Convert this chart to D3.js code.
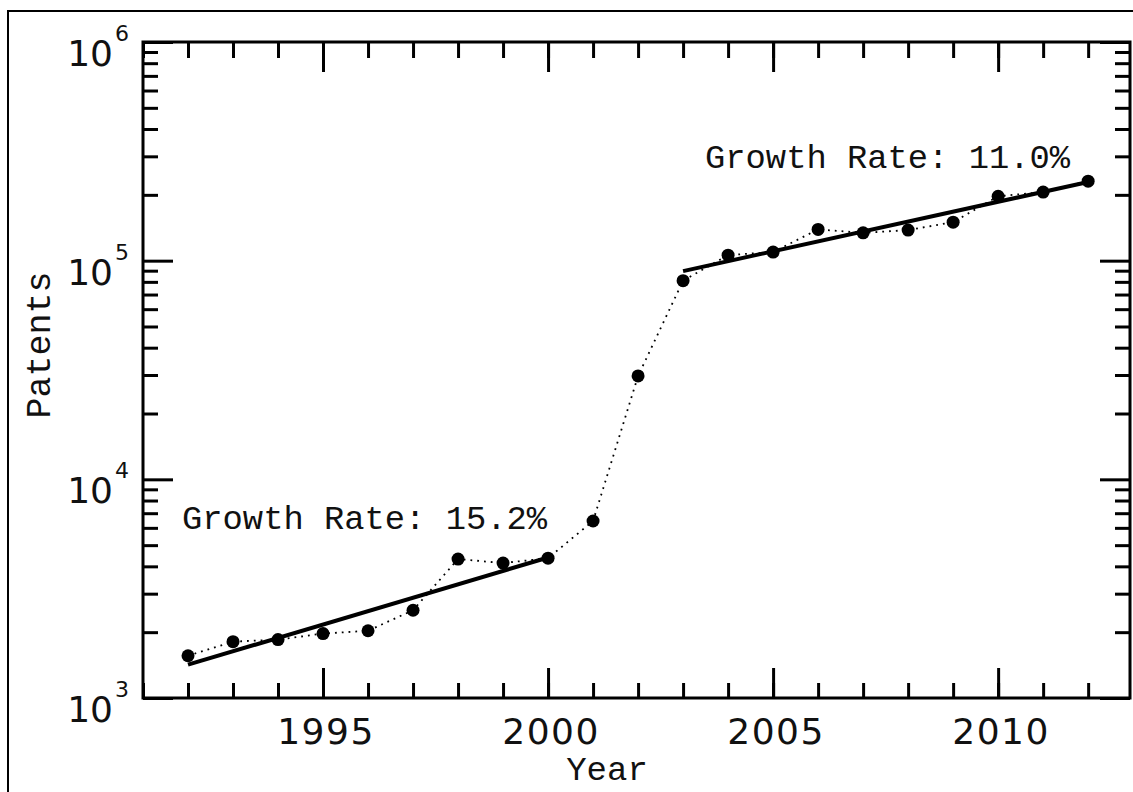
<!DOCTYPE html>
<html>
<head>
<meta charset="utf-8">
<script src="https://cdn.jsdelivr.net/npm/d3@7"></script>
<style>
  body { margin: 0; background: #fff; }
  svg { display: block; }
</style>
</head>
<body>
<script>
// patents per year
var years = [1992, 1993, 1994, 1995, 1996, 1997, 1998, 1999, 2000, 2001, 2002,
             2003, 2004, 2005, 2006, 2007, 2008, 2009, 2010, 2011, 2012];
var patents = [1560, 1810, 1850, 1970, 2030, 2520, 4320, 4140, 4360, 6450, 29700,
               81000, 106000, 109500, 139000, 134000, 138000, 150000, 197000, 206000, 231000];

// fitted trend segments
var fit1Years = [1992, 2000];
var fit1Values = [1420, 4390];
var fit2Years = [2003, 2012];
var fit2Values = [89600, 229000];

var growthLabels = ["Growth Rate: 15.2%", "Growth Rate: 11.0%"];

var majorYears = [1995, 2000, 2005, 2010];
var minorYears = d3.range(1991, 2013);
var decades = [3, 4, 5, 6];

var W = 1133, H = 792;
var plotL = 143, plotR = 1130, plotT = 42, plotB = 698;

var svg = d3.select("body").append("svg")
  .attr("width", W)
  .attr("height", H);

svg.append("rect")
  .attr("x", 8).attr("y", 11)
  .attr("width", 1150).attr("height", 820)
  .attr("fill", "none").attr("stroke", "#000").attr("stroke-width", 2);

var x = d3.scaleLinear().domain([1991, 2012.93]).range([plotL, plotR]);
var y = d3.scaleLog().domain([1e3, 1e6]).range([plotB, plotT]);

var minorY = [];
[1e3, 1e4, 1e5].forEach(function(d) {
  for (var k = 2; k <= 9; k++) minorY.push(d * k);
});
var majorY = decades.map(function(e) { return Math.pow(10, e); });

function tickAxis(axis, g) {
  g.call(axis);
  g.select(".domain").remove();
  g.selectAll(".tick line").attr("stroke", "#000").attr("stroke-width", 3);
}

// bottom / top ticks
tickAxis(d3.axisBottom(x).tickValues(minorYears).tickSize(-15).tickFormat(""),
  svg.append("g").attr("transform", "translate(0," + plotB + ")"));
tickAxis(d3.axisBottom(x).tickValues(majorYears).tickSize(-30).tickFormat(""),
  svg.append("g").attr("transform", "translate(0," + plotB + ")"));
tickAxis(d3.axisTop(x).tickValues(minorYears).tickSize(-16).tickFormat(""),
  svg.append("g").attr("transform", "translate(0," + plotT + ")"));
tickAxis(d3.axisTop(x).tickValues(majorYears).tickSize(-30).tickFormat(""),
  svg.append("g").attr("transform", "translate(0," + plotT + ")"));

// left / right ticks
tickAxis(d3.axisLeft(y).tickValues(minorY).tickSize(-15).tickFormat(""),
  svg.append("g").attr("transform", "translate(" + plotL + ",0)"));
tickAxis(d3.axisLeft(y).tickValues(majorY).tickSize(-30).tickFormat(""),
  svg.append("g").attr("transform", "translate(" + plotL + ",0)"));
tickAxis(d3.axisRight(y).tickValues(minorY).tickSize(-15).tickFormat(""),
  svg.append("g").attr("transform", "translate(" + plotR + ",0)"));
tickAxis(d3.axisRight(y).tickValues(majorY).tickSize(-30).tickFormat(""),
  svg.append("g").attr("transform", "translate(" + plotR + ",0)"));

// plot frame
svg.append("rect")
  .attr("x", plotL).attr("y", plotT)
  .attr("width", plotR - plotL).attr("height", plotB - plotT)
  .attr("fill", "none").attr("stroke", "#000").attr("stroke-width", 3);

// x tick labels
svg.selectAll(".xlab").data(majorYears).enter().append("text")
  .attr("x", function(d) { return x(d) + 3; })
  .attr("y", plotB + 46)
  .attr("text-anchor", "middle")
  .attr("font-family", "DejaVu Sans")
  .attr("font-size", 36)
  .attr("letter-spacing", 1.5)
  .attr("fill", "#111")
  .text(function(d) { return d; });

// y tick labels 10^n
var ylab = svg.selectAll(".ylab").data(decades).enter().append("g");
ylab.append("text")
  .attr("x", 113)
  .attr("y", function(d) { return y(Math.pow(10, d)) + 24; })
  .attr("text-anchor", "end")
  .attr("font-family", "DejaVu Sans")
  .attr("font-size", 36)
  .attr("fill", "#111")
  .text("10");
ylab.append("text")
  .attr("x", 115)
  .attr("y", function(d) { return y(Math.pow(10, d)) - 1; })
  .attr("font-family", "DejaVu Sans")
  .attr("font-size", 22)
  .attr("fill", "#111")
  .text(function(d) { return d; });

// axis titles
svg.append("text")
  .attr("x", 607).attr("y", 780)
  .attr("text-anchor", "middle")
  .attr("font-family", "Liberation Mono")
  .attr("font-size", 34)
  .attr("fill", "#111")
  .text("Year");

svg.append("text")
  .attr("transform", "translate(50,345) rotate(-90)")
  .attr("text-anchor", "middle")
  .attr("font-family", "Liberation Mono")
  .attr("font-size", 35)
  .attr("fill", "#111")
  .text("Patents");

// dotted connecting line
var pts = years.map(function(d, i) { return [d, patents[i]]; });
var line = d3.line()
  .x(function(d) { return x(d[0]); })
  .y(function(d) { return y(d[1]); });

svg.append("path")
  .attr("d", line(pts))
  .attr("fill", "none")
  .attr("stroke", "#000")
  .attr("stroke-width", 1.8)
  .attr("stroke-dasharray", "1.8,5");

// fit lines
[[fit1Years, fit1Values], [fit2Years, fit2Values]].forEach(function(f) {
  var seg = f[0].map(function(d, i) { return [d, f[1][i]]; });
  svg.append("path")
    .attr("d", line(seg))
    .attr("fill", "none")
    .attr("stroke", "#000")
    .attr("stroke-width", 4);
});

// points
svg.selectAll("circle").data(pts).enter().append("circle")
  .attr("cx", function(d) { return x(d[0]); })
  .attr("cy", function(d) { return y(d[1]); })
  .attr("r", 6.5)
  .attr("fill", "#000");

// growth annotations
svg.append("text")
  .attr("x", 182).attr("y", 529)
  .attr("font-family", "Liberation Mono")
  .attr("font-size", 33.8)
  .attr("fill", "#111")
  .text(growthLabels[0]);
svg.append("text")
  .attr("x", 705).attr("y", 168)
  .attr("font-family", "Liberation Mono")
  .attr("font-size", 33.8)
  .attr("fill", "#111")
  .text(growthLabels[1]);
</script>
</body>
</html>
